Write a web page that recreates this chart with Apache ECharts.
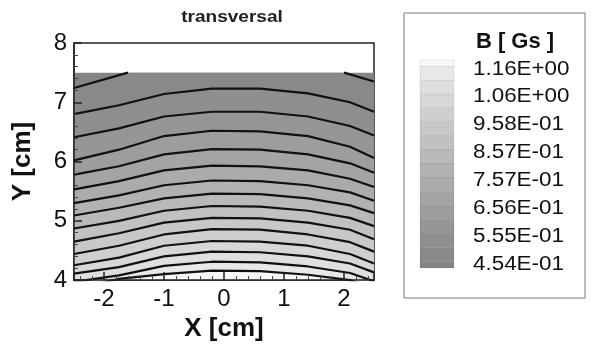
<!DOCTYPE html>
<html>
<head>
<meta charset="utf-8">
<script src="https://cdn.jsdelivr.net/npm/echarts@6/dist/echarts.min.js"></script>
<style>
  html, body { margin: 0; padding: 0; background: #fff; }
  #chart { width: 591px; height: 347px; }
</style>
</head>
<body>
<div id="chart"></div>
<script>
// x positions (cm) where the contour lines are sampled
const xs = [-2.5, -1.75, -1.0, -0.2, 0.6, 1.4, 2.1, 2.5];

// top edge of the computed field (white above it)
const topEdgeX = [-2.5, 2.5];
const topEdgeY = [7.5, 7.5];

// contour that only shows in the two upper corners
const cornerX = [-2.5, -1.6, 2.0, 2.5];
const cornerY = [7.24, 7.5, 7.5, 7.35];

// contour lines, top to bottom, y (cm) at xs
const line01 = [6.80, 6.95, 7.14, 7.23, 7.23, 7.15, 7.00, 6.84];
const line02 = [6.41, 6.56, 6.76, 6.84, 6.84, 6.76, 6.60, 6.44];
const line03 = [6.02, 6.20, 6.43, 6.52, 6.51, 6.43, 6.25, 6.06];
const line04 = [5.78, 5.92, 6.12, 6.21, 6.20, 6.12, 5.97, 5.81];
const line05 = [5.53, 5.67, 5.85, 5.93, 5.92, 5.85, 5.71, 5.57];
const line06 = [5.30, 5.43, 5.60, 5.68, 5.67, 5.60, 5.48, 5.34];
const line07 = [5.09, 5.22, 5.38, 5.46, 5.45, 5.38, 5.26, 5.13];
const line08 = [4.87, 5.00, 5.17, 5.25, 5.24, 5.17, 5.05, 4.91];
const line09 = [4.65, 4.79, 4.97, 5.05, 5.04, 4.97, 4.85, 4.69];
const line10 = [4.44, 4.58, 4.77, 4.86, 4.85, 4.77, 4.64, 4.48];
const line11 = [4.25, 4.38, 4.58, 4.66, 4.65, 4.58, 4.44, 4.28];
const line12 = [4.11, 4.22, 4.40, 4.48, 4.47, 4.40, 4.28, 4.13];
const line13 = [3.97, 4.08, 4.24, 4.31, 4.30, 4.23, 4.12, 3.98];
const line14 = [3.85, 4.02, 4.10, 4.16, 4.15, 4.09, 4.00, 3.85];
const contourLines = [line01, line02, line03, line04, line05, line06, line07,
  line08, line09, line10, line11, line12, line13, line14];

// legend labels, top to bottom (every second level)
const legendLabels = ['1.16E+00', '1.06E+00', '9.58E-01', '8.57E-01',
  '7.57E-01', '6.56E-01', '5.55E-01', '4.54E-01'];

// band fills, darkest (low B) to lightest (high B)
const bandColors = ['#848484', '#898989', '#8f8f8f', '#969696', '#9d9d9d',
  '#a4a4a4', '#ababab', '#b2b2b2', '#b9b9b9', '#c1c1c1', '#c8c8c8',
  '#cfcfcf', '#d7d7d7', '#dfdfdf', '#e8e8e8', '#f7f7f7'];

const font = 'Liberation Sans';
const pair = (xv, yv) => xv.map((x, i) => [x, yv[i]]);

const series = [];
// darkest band (corners above the corner contour)
series.push({
  type: 'line', data: pair(topEdgeX, topEdgeY), showSymbol: false,
  lineStyle: { width: 0 }, areaStyle: { color: bandColors[0], opacity: 1, origin: 'start' }
});
// band below the corner contour
series.push({
  type: 'line', data: pair(cornerX, cornerY), showSymbol: false,
  lineStyle: { width: 0 }, areaStyle: { color: bandColors[1], opacity: 1, origin: 'start' }
});
// strokes of the corner contour
[[0, 2], [2, 4]].forEach(([a, b]) => {
  series.push({
    type: 'line', data: pair(cornerX.slice(a, b), cornerY.slice(a, b)), showSymbol: false,
    lineStyle: { color: '#111', width: 2.2 }
  });
});
contourLines.forEach((ys, k) => {
  series.push({
    type: 'line', data: pair(xs, ys), showSymbol: false,
    lineStyle: { color: '#111', width: 2.2 },
    areaStyle: { color: bandColors[k + 2], opacity: 1, origin: 'start' }
  });
});
series.forEach(s => { s.silent = true; s.clip = true; s.smooth = false; });

// legend colour bar
const bar = { x: 420, w: 34, top: 60, first: 66.5, step: 13.93, bottom: 268 };
const graphics = [];
graphics.push({
  type: 'rect', shape: { x: 404, y: 13, width: 181, height: 285 },
  style: { fill: '#fff', stroke: '#777', lineWidth: 1 }
});
for (let k = 0; k < 16; k++) {
  const y0 = k === 0 ? bar.top : bar.first + (k - 1) * bar.step;
  const y1 = k === 15 ? bar.bottom : bar.first + k * bar.step;
  graphics.push({
    type: 'rect', shape: { x: bar.x, y: y0, width: bar.w, height: y1 - y0 },
    style: { fill: bandColors[15 - k], stroke: 'rgba(0,0,0,0.12)', lineWidth: 0.6 }
  });
}
legendLabels.forEach((t, i) => {
  graphics.push({
    type: 'text', x: 473, y: bar.first + i * 2 * bar.step + 2.5, scaleX: 1.12,
    style: { text: t, fontFamily: font, fontSize: 20, fill: '#111', align: 'left', verticalAlign: 'middle' }
  });
});
graphics.push({
  type: 'text', x: 515, y: 42,
  style: { text: 'B [ Gs ]', fontFamily: font, fontSize: 22, fontWeight: 'bold', fill: '#111', align: 'center', verticalAlign: 'middle' }
});
graphics.push({
  type: 'text', x: 232, y: 17, scaleX: 1.12,
  style: { text: 'transversal', fontFamily: font, fontSize: 17, fontWeight: 'bold', fill: '#222', align: 'center', verticalAlign: 'middle' }
});

const axisCommon = {
  type: 'value',
  z: 10,
  splitLine: { show: false },
  axisLine: { show: true, onZero: false, lineStyle: { color: '#222', width: 1.5 } },
  axisTick: { show: true, inside: true, length: 8, lineStyle: { color: '#222', width: 1.5 } },
  minorTick: { show: true, splitNumber: 5, length: 4, lineStyle: { color: '#444', width: 1 } },
  axisLabel: { fontFamily: font, fontSize: 24, color: '#111', margin: 7 },
  nameLocation: 'middle',
  nameTextStyle: { fontFamily: font, fontSize: 26, fontWeight: 'bold', color: '#111' }
};

const chart = echarts.init(document.getElementById('chart'));
chart.setOption({
  animation: false,
  grid: { left: 74, right: 217, top: 43, bottom: 62, show: true, borderColor: '#222', borderWidth: 1.5, backgroundColor: '#fff' },
  xAxis: Object.assign({}, axisCommon, {
    min: -2.5, max: 2.5, name: 'X [cm]', nameGap: 26,
    axisLabel: Object.assign({}, axisCommon.axisLabel, { showMinLabel: false, showMaxLabel: false })
  }),
  yAxis: Object.assign({}, axisCommon, {
    min: 4, max: 8, interval: 1, name: 'Y [cm]', nameGap: 38
  }),
  graphic: graphics,
  series: series
});
</script>
</body>
</html>
